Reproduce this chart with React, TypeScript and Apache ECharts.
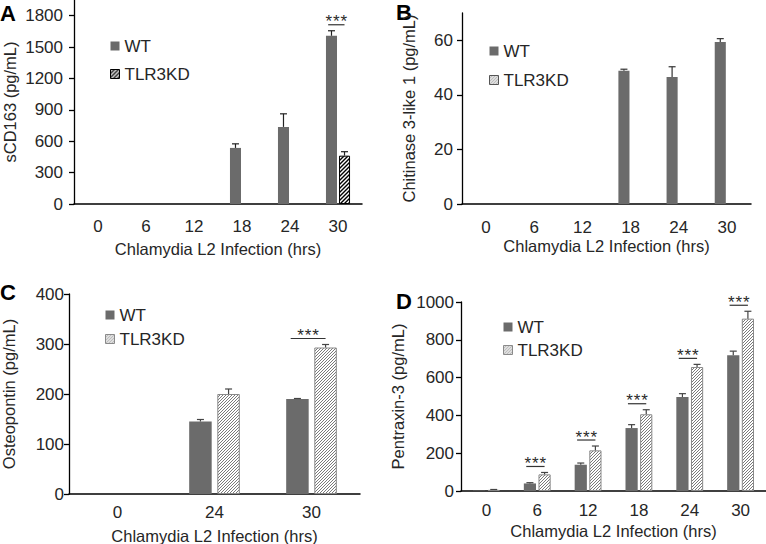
import React, { useEffect, useRef } from 'react';
import * as echarts from 'echarts';

// ---------- data ----------
const HOURS = ['0', '6', '12', '18', '24', '30'];
const HOURS_C = ['0', '24', '30'];

const A_WT = [0, 0, 0, 536, 737, 1608];
const A_WT_SD = [0, 0, 0, 39, 125, 48];
const A_KD = [0, 0, 0, 0, 0, 462];
const A_KD_SD = [0, 0, 0, 0, 0, 38];
const A_SIG = [5];
const A_TICKS = [0, 300, 600, 900, 1200, 1500, 1800];

const B_WT = [0, 0, 0, 48.8, 46.5, 59.4];
const B_WT_SD = [0, 0, 0, 0.6, 3.8, 1.2];
const B_KD = [0, 0, 0, 0, 0, 0];
const B_KD_SD = [0, 0, 0, 0, 0, 0];
const B_SIG: number[] = [];
const B_TICKS = [0, 20, 40, 60];

const C_WT = [0, 145, 190];
const C_WT_SD = [0, 4, 1];
const C_KD = [0, 200, 293];
const C_KD_SD = [0, 10, 6];
const C_SIG = [2];
const C_TICKS = [0, 100, 200, 300, 400];

const D_WT = [2, 40, 139, 333, 497, 718];
const D_WT_SD = [0, 4, 9, 18, 18, 22];
const D_KD = [6, 88, 215, 406, 656, 912];
const D_KD_SD = [2, 10, 23, 24, 14, 39];
const D_SIG = [1, 2, 3, 4, 5];
const D_TICKS = [0, 200, 400, 600, 800, 1000];

const X_NAME = 'Chlamydia L2 Infection (hrs)';
const SIG_MARK = '*';

// ---------- style ----------
const FONT = '"Liberation Sans", Arial, sans-serif';
const TEXT = '#262626';
const WT_COLOR = '#6b6b6b';
const TICK_FS = 17;
const NAME_FS = 16.5;
const LEGEND_FS = 17;

function hatch(color: string, size: number, lw: number) {
  const c = document.createElement('canvas');
  c.width = size;
  c.height = size;
  const ctx = c.getContext('2d')!;
  ctx.fillStyle = '#ffffff';
  ctx.fillRect(0, 0, size, size);
  ctx.strokeStyle = color;
  ctx.lineWidth = lw;
  ctx.beginPath();
  ctx.moveTo(0, size);
  ctx.lineTo(size, 0);
  ctx.moveTo(-1, 1);
  ctx.lineTo(1, -1);
  ctx.moveTo(size - 1, size + 1);
  ctx.lineTo(size + 1, size - 1);
  ctx.stroke();
  return { image: c, repeat: 'repeat' } as any;
}

export default function App() {
  const ref = useRef<HTMLDivElement>(null);

  useEffect(() => {
    if (!ref.current) return;
    const chart = echarts.init(ref.current, undefined, { renderer: 'svg' });

    const darkHatch = hatch('#000000', 4, 1.4);
    const greyHatch = hatch('#7a7a7a', 3, 1);

    const panels = [
      {
        letter: 'A', letterPos: [0, 13], cats: HOURS, wt: A_WT, wtSd: A_WT_SD, kd: A_KD, kdSd: A_KD_SD, sig: A_SIG,
        ticks: A_TICKS, max: 1950, yName: 'sCD163 (pg/mL)',
        grid: { left: 74, top: 0, width: 288, height: 204 },
        bw: 0.23, gap: 0.18, yLabelMargin: 11, yNameGap: 56, xLabelMargin: 14, xNameGap: 36,
        kdFill: darkHatch, kdBorder: '#000000', errColor: '#222',
        legend: { left: 110, top: 36, gap: 8 },
      },
      {
        letter: 'B', letterPos: [396, 12.5], cats: HOURS, wt: B_WT, wtSd: B_WT_SD, kd: B_KD, kdSd: B_KD_SD, sig: B_SIG,
        ticks: B_TICKS, max: 70, yName: 'Chitinase 3-like 1 (pg/mL)',
        grid: { left: 462, top: 13, width: 289, height: 191 },
        bw: 0.23, gap: 0.2, yLabelMargin: 9, yNameGap: 45, xLabelMargin: 15, xNameGap: 33,
        kdFill: greyHatch, kdBorder: '#555555', errColor: '#333',
        legend: { left: 489, top: 41, gap: 9 },
      },
      {
        letter: 'C', letterPos: [0, 292.5], cats: HOURS_C, wt: C_WT, wtSd: C_WT_SD, kd: C_KD, kdSd: C_KD_SD, sig: C_SIG,
        ticks: C_TICKS, max: 400, yName: 'Osteopontin (pg/mL)',
        grid: { left: 69, top: 294, width: 291, height: 200 },
        bw: 0.232, gap: 0.25, yLabelMargin: 5, yNameGap: 52, xLabelMargin: 10, xNameGap: 33,
        kdFill: greyHatch, kdBorder: '#8a8a8a', errColor: '#444',
        legend: { left: 105, top: 305, gap: 4 },
      },
      {
        letter: 'D', letterPos: [396, 301.5], cats: HOURS, wt: D_WT, wtSd: D_WT_SD, kd: D_KD, kdSd: D_KD_SD, sig: D_SIG,
        ticks: D_TICKS, max: 1000, yName: 'Pentraxin-3 (pg/mL)',
        grid: { left: 461, top: 302, width: 305, height: 189 },
        bw: 0.24, gap: 0.2, yLabelMargin: 7, yNameGap: 55, xLabelMargin: 11, xNameGap: 31,
        kdFill: greyHatch, kdBorder: '#8a8a8a', errColor: '#444',
        legend: { left: 503, top: 317, gap: 3 },
      },
    ];

    const grids: any[] = [];
    const xAxes: any[] = [];
    const yAxes: any[] = [];
    const series: any[] = [];
    const legends: any[] = [];
    const graphics: any[] = [];

    panels.forEach((p, i) => {
      grids.push({ ...p.grid, containLabel: false, outerBoundsMode: 'none' });
      xAxes.push({
        type: 'category', gridIndex: i, data: p.cats,
        axisTick: { show: false },
        axisLine: { show: true, lineStyle: { color: '#000', width: 1.5 } },
        axisLabel: { margin: p.xLabelMargin, fontSize: TICK_FS, color: TEXT, fontFamily: FONT },
        name: X_NAME, nameLocation: 'middle', nameGap: p.xNameGap,
        nameTextStyle: { fontSize: NAME_FS, color: TEXT, fontFamily: FONT },
      });
      yAxes.push({
        type: 'value', gridIndex: i, min: 0, max: p.max, interval: p.ticks[1] - p.ticks[0],
        axisLine: { show: true, lineStyle: { color: '#000', width: 1.3 } },
        axisTick: { show: true, length: 5, lineStyle: { color: '#000', width: 1.3 }, customValues: p.ticks },
        axisLabel: {
          customValues: p.ticks, margin: p.yLabelMargin, fontSize: TICK_FS, color: TEXT, fontFamily: FONT,
          formatter: (v: number) => String(v),
        },
        splitLine: { show: false },
        name: p.yName, nameLocation: 'middle', nameGap: p.yNameGap,
        nameTextStyle: { fontSize: NAME_FS, color: TEXT, fontFamily: FONT },
      });

      const bwPct = (p.bw * 100).toFixed(1) + '%';
      const gapPct = (p.gap * 100).toFixed(0) + '%';
      series.push({
        type: 'bar', name: 'WT', xAxisIndex: i, yAxisIndex: i, data: p.wt,
        barWidth: bwPct, barGap: gapPct, silent: true,
        itemStyle: { color: WT_COLOR },
      });
      series.push({
        type: 'bar', name: 'TLR3KD', xAxisIndex: i, yAxisIndex: i,
        data: p.kd.map((v) => (v === 0 ? { value: 0, itemStyle: { borderWidth: 0 } } : v)),
        barWidth: bwPct, barGap: gapPct, silent: true,
        itemStyle: { color: p.kdFill, borderColor: p.kdBorder, borderWidth: 1 },
      });

      const errData: number[][] = [];
      p.wt.forEach((v, k) => { if (p.wtSd[k] > 0) errData.push([k, v, p.wtSd[k], -1]); });
      p.kd.forEach((v, k) => { if (p.kdSd[k] > 0) errData.push([k, v, p.kdSd[k], 1]); });
      const bw = p.bw, gap = p.gap, errColor = p.errColor;
      series.push({
        type: 'custom', xAxisIndex: i, yAxisIndex: i, silent: true, z: 4,
        encode: { x: 0, y: 1 },
        data: errData,
        renderItem: (params: any, api: any) => {
          const idx = api.value(0), val = api.value(1), sd = api.value(2), side = api.value(3);
          const band = api.size([1, 0])[0];
          const w = band * bw;
          const off = ((w + w * gap) / 2) * side;
          const base = api.coord([idx, val]);
          const top = api.coord([idx, val + sd]);
          const x = base[0] + off;
          const st = { stroke: errColor, lineWidth: 1.2 };
          return {
            type: 'group',
            children: [
              { type: 'line', shape: { x1: x, y1: base[1], x2: x, y2: top[1] }, style: st },
              { type: 'line', shape: { x1: x - 3.5, y1: top[1], x2: x + 3.5, y2: top[1] }, style: st },
            ],
          };
        },
      });

      const sigData = p.sig.map((k) => [k, Math.max(p.wt[k] + p.wtSd[k], p.kd[k] + p.kdSd[k])]);
      if (sigData.length) {
        series.push({
          type: 'custom', xAxisIndex: i, yAxisIndex: i, silent: true, z: 5,
          encode: { x: 0, y: 1 },
          data: sigData,
          renderItem: (params: any, api: any) => {
            const idx = api.value(0), topVal = api.value(1);
            const band = api.size([1, 0])[0];
            const w = band * bw;
            const off = (w + w * gap) / 2;
            const c = api.coord([idx, topVal]);
            const ly = c[1] - 6;
            const x1 = c[0] - off - 0.3 * w;
            const x2 = c[0] + off;
            const mid = (x1 + x2) / 2;
            const stars = [-7.5, 0, 7.5].map((dx) => ({
              type: 'text', x: mid + dx, y: ly - 3,
              style: { text: SIG_MARK, font: '17px ' + FONT, fill: '#2a2a2a', align: 'center', verticalAlign: 'middle' },
            }));
            return {
              type: 'group',
              children: [
                { type: 'line', shape: { x1, y1: ly, x2, y2: ly }, style: { stroke: '#333', lineWidth: 1.2 } },
                ...stars,
              ],
            };
          },
        });
      }

      legends.push({
        left: p.legend.left, top: p.legend.top, orient: 'vertical', icon: 'rect',
        itemWidth: 9, itemHeight: 9, itemGap: p.legend.gap, selectedMode: false, padding: 0,
        textStyle: { fontSize: LEGEND_FS, color: TEXT, fontFamily: FONT, lineHeight: 20 },
        data: [
          { name: 'WT', itemStyle: { color: WT_COLOR, borderWidth: 0 } },
          { name: 'TLR3KD', itemStyle: { color: p.kdFill, borderColor: p.kdBorder, borderWidth: 1 } },
        ],
      });

      graphics.push({
        type: 'text', x: p.letterPos[0], y: p.letterPos[1], silent: true,
        style: { text: p.letter, font: 'bold 22px ' + FONT, fill: '#000', verticalAlign: 'middle' },
      });
    });

    chart.setOption({
      animation: false,
      backgroundColor: '#ffffff',
      grid: grids,
      xAxis: xAxes,
      yAxis: yAxes,
      legend: legends,
      series,
      graphic: graphics,
    });

    return () => chart.dispose();
  }, []);

  return <div ref={ref} style={{ position: 'absolute', left: 0, top: 0, width: 766, height: 544 }} />;
}
